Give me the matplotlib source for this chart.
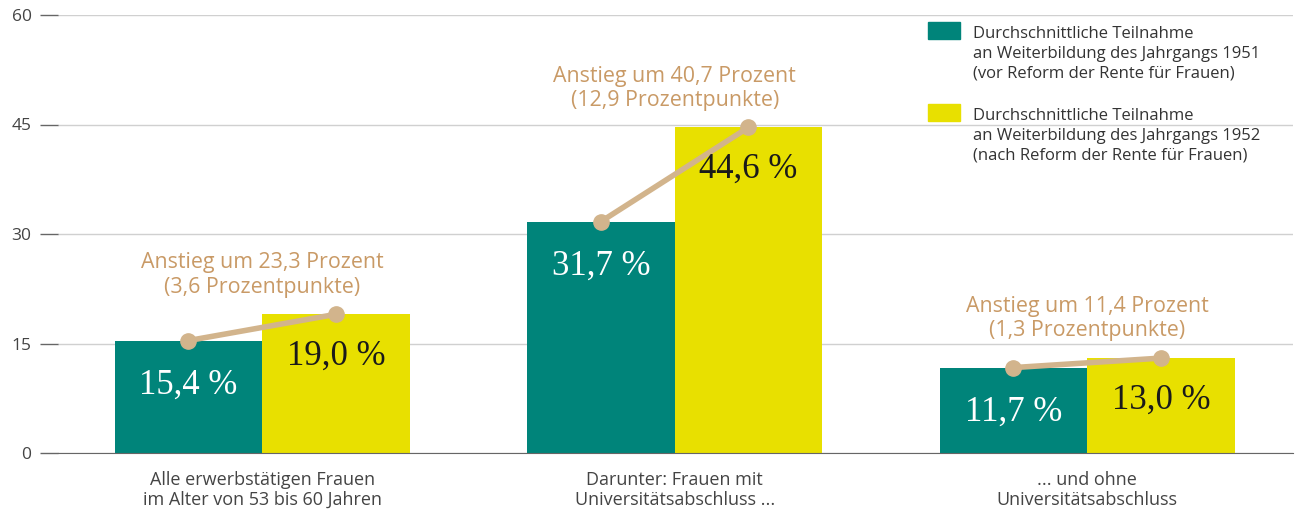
import numpy as np
import matplotlib.pyplot as plt
from matplotlib.patches import Rectangle

# data
categories = ['Alle erwerbstätigen Frauen\nim Alter von 53 bis 60 Jahren',
              'Darunter: Frauen mit\nUniversitätsabschluss ...',
              '... und ohne\nUniversitätsabschluss']
jg1951 = [15.4, 31.7, 11.7]
jg1952 = [19.0, 44.6, 13.0]
labels1951 = ['15,4 %', '31,7 %', '11,7 %']
labels1952 = ['19,0 %', '44,6 %', '13,0 %']
anstieg = ['Anstieg um 23,3 Prozent\n(3,6 Prozentpunkte)',
           'Anstieg um 40,7 Prozent\n(12,9 Prozentpunkte)',
           'Anstieg um 11,4 Prozent\n(1,3 Prozentpunkte)']
legend_labels = ['Durchschnittliche Teilnahme\nan Weiterbildung des Jahrgangs 1951\n(vor Reform der Rente für Frauen)',
                 'Durchschnittliche Teilnahme\nan Weiterbildung des Jahrgangs 1952\n(nach Reform der Rente für Frauen)']
yticks = [0, 15, 30, 45, 60]

teal = '#00847a'
yellow = '#e8e000'
tan = '#d2b48c'
tan_txt = '#c99a66'
gray = '#444444'

plt.rcParams['font.family'] = ['Open Sans', 'DejaVu Sans']

fig = plt.figure(figsize=(12.98, 5.12), dpi=100)
ax = fig.add_axes([58/1298, 59/512, (1293-58)/1298, (453-15)/512])

x = np.arange(len(categories))
w = 0.3576
ax.bar(x - w/2, jg1951, w, color=teal, zorder=2)
ax.bar(x + w/2, jg1952, w, color=yellow, zorder=2)

for i in range(len(x)):
    ax.plot([x[i] - w/2, x[i] + w/2], [jg1951[i], jg1952[i]], color=tan, lw=4,
            marker='o', ms=11, zorder=4, solid_capstyle='round')
    ax.annotate(labels1951[i], (x[i] - w/2, jg1951[i]), xytext=(0, -32), textcoords='offset points',
                ha='center', va='center', fontsize=25, color='white',
                family='Liberation Serif', zorder=5)
    ax.annotate(labels1952[i], (x[i] + w/2, jg1952[i]), xytext=(0, -30), textcoords='offset points',
                ha='center', va='center', fontsize=25, color='#1a1a1a',
                family='Liberation Serif', zorder=5)
    ax.annotate(anstieg[i], (x[i], jg1952[i]), xytext=(0, 12), textcoords='offset points',
                ha='center', va='bottom', fontsize=15.4, color=tan_txt, linespacing=1.2)

ax.set_xlim(-0.495, -0.495 + (1293-58)/412.5)
ax.set_ylim(0, 60)
ax.set_yticks(yticks)
ax.set_yticklabels([str(t) for t in yticks], fontsize=12.5, color=gray)
ax.tick_params(axis='y', length=13, width=1, color='#666666', pad=6)
ax.set_xticks(x)
ax.set_xticklabels(categories, fontsize=13, color=gray, linespacing=1.15)
ax.tick_params(axis='x', length=0, pad=13)
ax.yaxis.grid(True, color='#d0d0d0', lw=1, zorder=0)
ax.set_axisbelow(True)
for s in ['top', 'right', 'left']:
    ax.spines[s].set_visible(False)
ax.spines['bottom'].set_color('#666666')
ax.spines['bottom'].set_zorder(3)

# legend drawn by hand so the square sits at the first line
tr = ax.transAxes
W = (1293-58)
H = (453-15)
for j, (lab, col) in enumerate(zip(legend_labels, [teal, yellow])):
    top = 22 + j*82
    ax.add_patch(Rectangle(((928-58)/W, (453-top-17)/H), 32/W, 17/H, transform=tr,
                           color=col, clip_on=False, zorder=5))
    ax.text((973-58)/W, (453-top-4)/H, lab, transform=tr, ha='left', va='top',
            fontsize=12, color='#333333', linespacing=1.32)

fig.savefig('out.png', dpi=100)
